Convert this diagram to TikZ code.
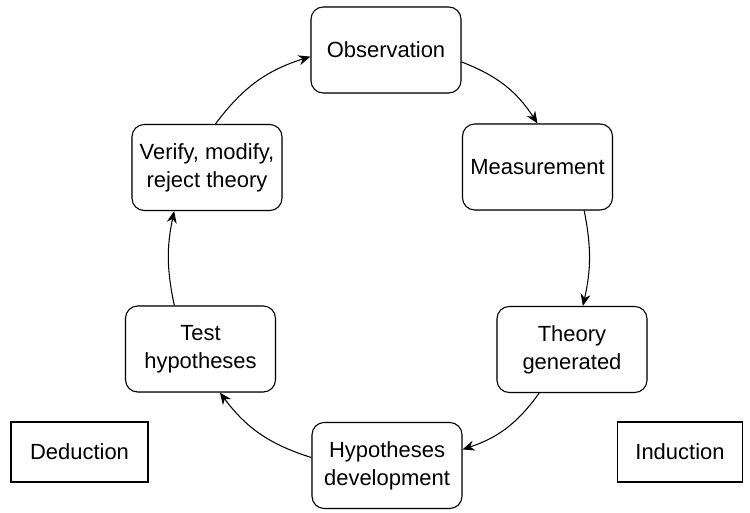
\documentclass[tikz,border=0pt]{standalone}
\usepackage{fontspec}
\setmainfont{Liberation Sans}
\usetikzlibrary{arrows.meta,backgrounds}

\begin{document}
\begin{tikzpicture}[
  font=\fontsize{12.5}{16}\selectfont,
  b/.style={draw=black, fill=white, rounded corners=7pt, align=center,
            minimum width=3cm, minimum height=1.72cm, inner sep=2pt,
            line width=0.6pt},
  t/.style={draw=black, fill=white, align=center, minimum width=#1,
            minimum height=1.2cm, inner sep=2pt, line width=0.6pt},
  t/.default=2.74cm,
  shad/.style={fill=black!22, draw=none},
  arr/.style={-{Stealth[length=2.4mm, width=2mm]}, line width=0.6pt}]
\useasboundingbox (0,0) rectangle (15,-10.26);
\node[b] (obs)  at (7.72, -1.0)  {Observation};
\node[b] (meas) at (10.75, -3.34) {Measurement};
\node[b] (theo) at (11.44, -6.99) {Theory\\generated};
\node[b] (hyp)  at (7.74, -9.31) {Hypotheses\\development};
\node[b] (test) at (4.01, -6.98) {Test\\hypotheses};
\node[b] (ver)  at (4.14, -3.35) {Verify, modify,\\reject theory};
\node[t] (ded)  at (1.59, -9.04) {Deduction};
\node[t=2.5cm] (ind) at (13.6, -9.04) {Induction};
% grey shadows behind the boxes
\begin{scope}[on background layer, shift={(0.16,-0.16)}]
\foreach \n in {obs, meas, theo, hyp, test, ver}
  \fill[shad, rounded corners=7pt] (\n.south west) rectangle (\n.north east);
\foreach \n in {ded, ind}
  \fill[shad] (\n.south west) rectangle (\n.north east);
\end{scope}
% the cycle, clockwise
\draw[arr] (obs.-9)    to[bend left=18] (meas.north);
\draw[arr] (meas.-43)  to[bend left=12] (theo.76);
\draw[arr] (theo.-127) to[bend left=18] (hyp.12);
\draw[arr] (hyp.174)   to[bend left=18] (test.-66);
\draw[arr] (test.121)  to[bend left=12] (ver.-127);
\draw[arr] (ver.79)    to[bend left=18] (obs.185);
\end{tikzpicture}
\end{document}
